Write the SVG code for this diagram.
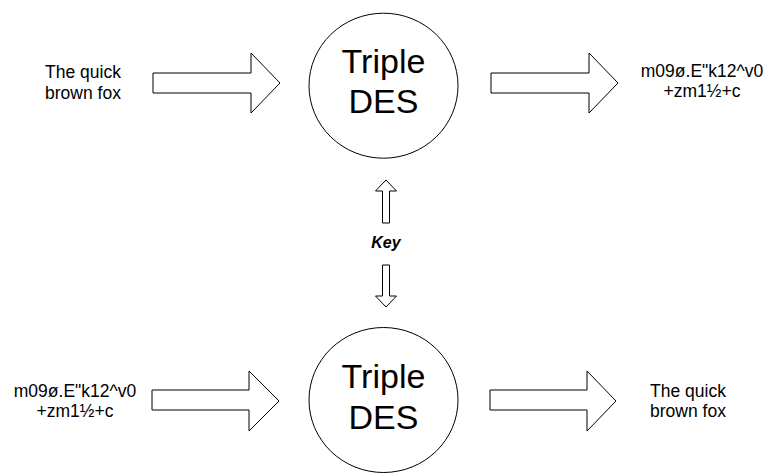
<svg xmlns="http://www.w3.org/2000/svg" width="766" height="473" viewBox="0 0 766 473">
<style>
.arrow{fill:#fff;stroke:#000;stroke-width:1}
.node{fill:#fff;stroke:#000;stroke-width:1}
.big{font-family:"Liberation Sans",Arial,sans-serif;font-size:34px;fill:#000;text-anchor:middle}
.lbl{font-family:"Liberation Sans",Arial,sans-serif;font-size:17.5px;fill:#000;text-anchor:middle}
.key{font-family:"Liberation Sans",Arial,sans-serif;font-size:16px;font-weight:bold;font-style:italic;fill:#000;text-anchor:middle}
</style>
<rect width="766" height="473" fill="#fff"/>
<g id="connectors">
<polygon class="arrow" points="153,73 251,73 251,53 280,83 251,113 251,93 153,93"/>
<polygon class="arrow" points="491,73 589,73 589,53 618,83 589,113 589,93 491,93"/>
<polygon class="arrow" points="152,390 249,390 249,371 279,401 249,431 249,410 152,410"/>
<polygon class="arrow" points="490,390 587,390 587,371 616,401 587,431 587,410 490,410"/>
<polygon class="arrow" points="382.5,223 382.5,191 375.5,191 386,180 396.5,191 389.5,191 389.5,223"/>
<polygon class="arrow" points="382.5,265 389.5,265 389.5,296 396.5,296 386,307 375.5,296 382.5,296"/>
</g>
<g id="plain-top">
<text class="lbl" x="83" y="78">The quick</text>
<text class="lbl" x="83" y="99">brown fox</text>
</g>
<g id="des-top">
<ellipse class="node" cx="383.5" cy="85.7" rx="74.5" ry="72.5"/>
<text class="big" x="383.5" y="72.5">Triple</text>
<text class="big" x="383.5" y="113">DES</text>
</g>
<g id="cipher-top">
<text class="lbl" x="702" y="77">m09ø.E"k12^v0</text>
<text class="lbl" x="702" y="97">+zm1½+c</text>
</g>
<g id="key">
<text class="key" x="386" y="248">Key</text>
</g>
<g id="cipher-bottom">
<text class="lbl" x="75" y="397">m09ø.E"k12^v0</text>
<text class="lbl" x="75" y="417">+zm1½+c</text>
</g>
<g id="des-bottom">
<ellipse class="node" cx="383.5" cy="400" rx="74.5" ry="72.5"/>
<text class="big" x="383.5" y="388">Triple</text>
<text class="big" x="383.5" y="429">DES</text>
</g>
<g id="plain-bottom">
<text class="lbl" x="688" y="397">The quick</text>
<text class="lbl" x="688" y="417">brown fox</text>
</g>
</svg>
